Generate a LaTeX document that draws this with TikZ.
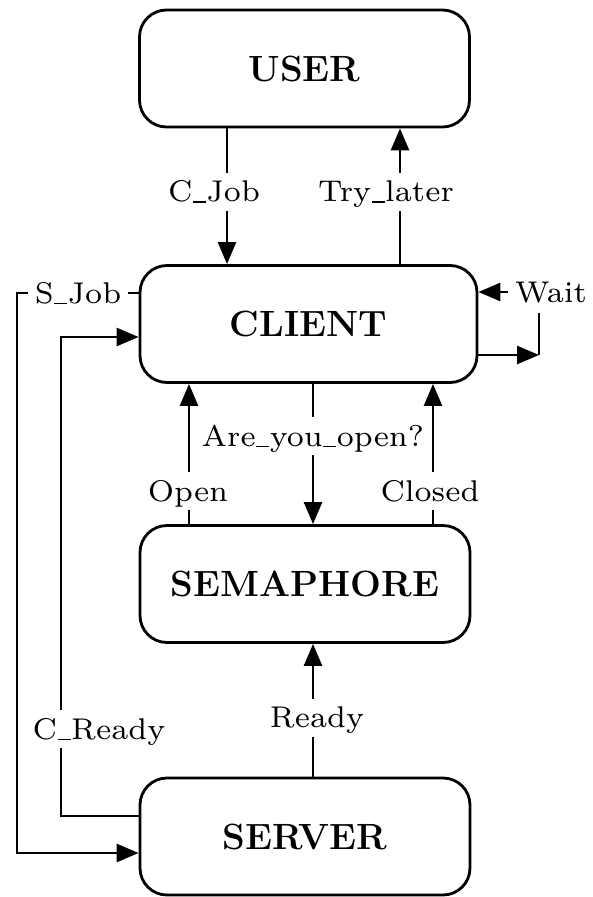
\documentclass[tikz,border=0pt]{standalone}
\usepackage{fontspec}
\usetikzlibrary{arrows.meta}
\newfontfamily\lblfont{lmroman7-regular.otf}
% short underscore used in the message names
\newcommand{\us}{\kern0.5pt\rule[-1.2pt]{13pt}{1.6pt}\kern0.5pt}
\begin{document}
\begin{tikzpicture}[x=1pt,y=-1pt,
  box/.style={draw, line width=2.8pt, rounded corners=27pt,
    minimum width=330pt, minimum height=117pt,
    font=\fontsize{36.5}{40}\selectfont\bfseries,
    text height=25pt, text depth=0pt, inner sep=0pt},
  lbl/.style={fill=white, font=\lblfont\fontsize{30}{32}\selectfont,
    text height=20pt, text depth=0pt, inner xsep=7pt, inner ysep=9pt},
  wire/.style={line width=2.7pt},
  arr/.style={wire, -{Triangle[length=22pt,width=18pt]}}]
\useasboundingbox (0,0) rectangle (592,897);

% states
\node[box] (user) at (304.5,68.5) {USER};
\node[box, minimum width=337pt] (client) at (308.5,324) {CLIENT};
\node[box] (sem) at (305,584) {SEMAPHORE};
\node[box] (server) at (305,836.5) {SERVER};

% x positions of the vertical wires
\coordinate (xCJ) at (227,0);
\coordinate (xTL) at (400,0);
\coordinate (xOP) at (189,0);
\coordinate (xAY) at (313,0);
\coordinate (xCL) at (433,0);

% vertical connectors
\draw[arr] (user.south -| xCJ) -- (client.north -| xCJ);
\draw[arr] (client.north -| xTL) -- (user.south -| xTL);
\draw[arr] (client.south -| xAY) -- (sem.north -| xAY);
\draw[arr] (sem.north -| xOP) -- (client.south -| xOP);
\draw[arr] (sem.north -| xCL) -- (client.south -| xCL);
\draw[arr] (server.north -| xAY) -- (sem.south -| xAY);

% S_Job: client -> server along the left margin
\coordinate (sjTop) at (17,293);
\coordinate (sjBot) at (17,853);
\draw[arr] (client.west |- sjTop) -- (sjTop) -- (sjBot) -- (server.west |- sjBot);

% C_Ready: server -> client
\coordinate (crBot) at (61,816);
\coordinate (crTop) at (61,337);
\draw[arr] (server.west |- crBot) -- (crBot) -- (crTop) -- (client.west |- crTop);

% Wait loop on the right
\coordinate (wOut) at (539,355);
\coordinate (wEnd) at (539,313);
\draw[arr] (client.east |- wOut) -- (wOut);
\draw[wire] (wOut) -- (wEnd);

% labels
\node[lbl] (lWait) at (551,292) {Wait};
\draw[arr] (lWait.west) -- (client.east |- lWait.west);
\node[lbl] (lCJ) at (214,191.5) {C\us Job};
\node[lbl] (lTL) at (386,191.5) {Try\us later};
\node[lbl] (lSJ) at (78,293) {S\us Job};
\node[lbl] (lAY) at (313,436) {Are\us you\us open?};
\node[lbl] (lOP) at (188,491) {Open};
\node[lbl] (lCL) at (430,491) {Closed};
\node[lbl] (lRD) at (317,717.5) {Ready};
\node[lbl] (lCR) at (99,729) {C\us Ready};
\end{tikzpicture}
\end{document}
